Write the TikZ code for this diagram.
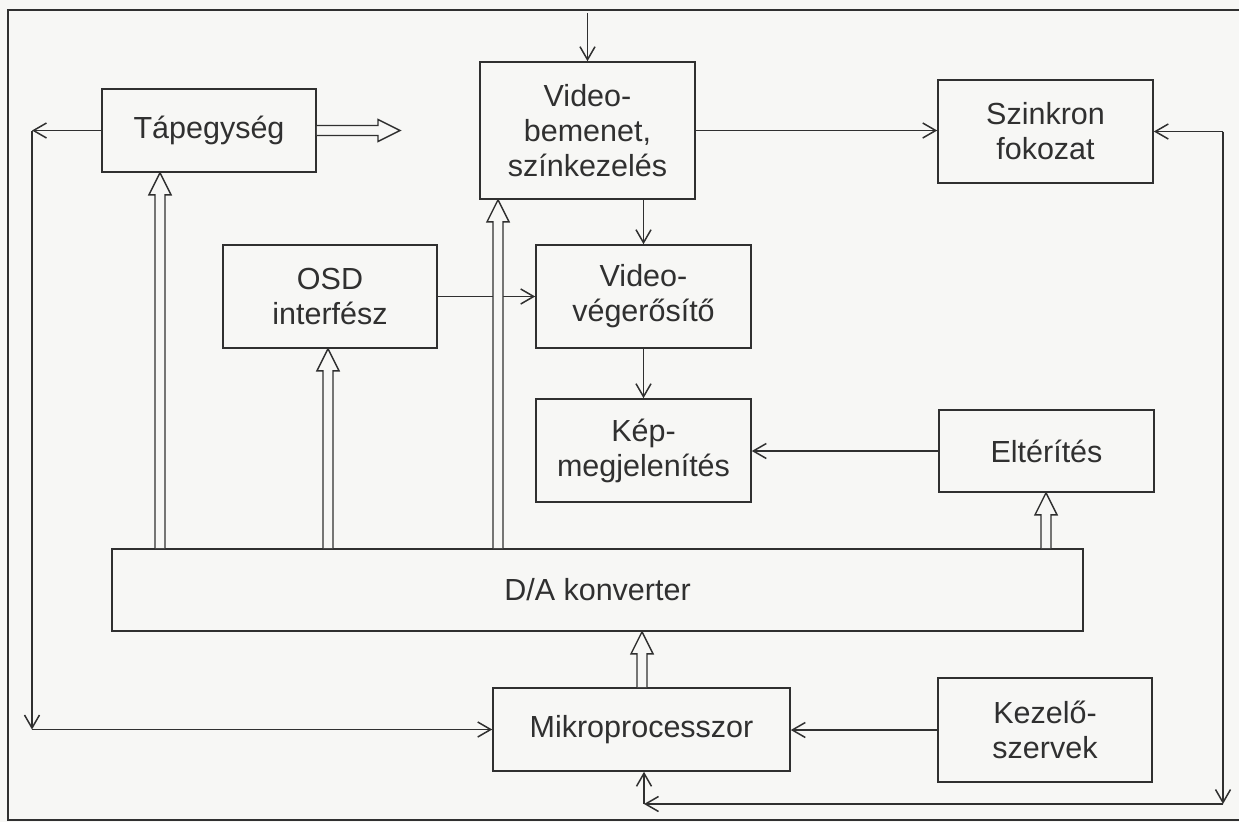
\documentclass[tikz,border=0pt]{standalone}
\usepackage{fontspec}
\setmainfont{Liberation Sans}
\usetikzlibrary{arrows.meta,calc}
\definecolor{ink}{HTML}{303030}
\definecolor{paper}{HTML}{F7F7F5}
\tikzset{
  blk/.style={draw=ink, line width=1.6pt, rectangle, inner sep=0pt, align=center,
    text=ink, font=\fontsize{30.5}{35}\selectfont},
  arr/.style={draw=ink, line width=1.5pt, -{Straight Barb[length=13pt,width=15pt,line width=1.5pt]}},
  hol/.style={draw=ink, line width=1.4pt, fill=paper, line join=miter},
}
\newcommand{\hollowup}[2]{%
  \draw[hol] ($(#1)+(-5,0)$) -- ($(#2)+(-5,22)$) -- ($(#2)+(-11,22)$) -- (#2)
    -- ($(#2)+(11,22)$) -- ($(#2)+(5,22)$) -- ($(#1)+(5,0)$);}
\begin{document}
\begin{tikzpicture}[x=1pt,y=-1pt]
\useasboundingbox (0,0) rectangle (1239,822);
\fill[paper] (0,0) rectangle (1239,822);
\draw[ink, line width=2.6pt] (8,10) rectangle (1245,820);

% blocks
\node[blk, minimum width=214pt, minimum height=83pt]  (tap) at (209,130.5) {Tápegység};
\node[blk, minimum width=215pt, minimum height=137pt] (vid) at (587.5,130.5) {Video-\\bemenet,\\színkezelés};
\node[blk, minimum width=215pt, minimum height=103pt] (szi) at (1045.5,131.5) {Szinkron\\fokozat};
\node[blk, minimum width=214pt, minimum height=103pt] (osd) at (330,296.5) {OSD\\interfész};
\node[blk, minimum width=215pt, minimum height=103pt] (vve) at (643.5,296.5) {Video-\\végerősítő};
\node[blk, minimum width=215pt, minimum height=103pt] (kep) at (643.5,450.5) {Kép-\\megjelenítés};
\node[blk, minimum width=215pt, minimum height=82pt]  (elt) at (1046.5,451) {Eltérítés};
\node[blk, minimum width=971pt, minimum height=82pt]  (dac) at (597.5,590) {D/A konverter};
\node[blk, minimum width=297pt, minimum height=83pt]  (mik) at (641.5,729.5) {Mikroprocesszor};
\node[blk, minimum width=214pt, minimum height=104pt] (kez) at (1045,730) {Kezelő-\\szervek};

% helper coordinates
\coordinate (vin) at (587.5,13);
\coordinate (xl) at (32,0);
\coordinate (xr) at (1223,0);
\coordinate (yb) at (0,804);
\coordinate (xm) at (644,0);
\coordinate (h1) at (160,0);
\coordinate (h2) at (328,0);
\coordinate (h3) at (498,0);
\coordinate (h4) at (1046,0);
\coordinate (h5) at (642,0);
\coordinate (tapout) at (400,130.5);

% thin signal arrows
\draw[arr] (vin) -- (vid.north);
\draw[arr] (vid.east) -- (vid.east -| szi.west);
\draw[arr] (vid.south -| vve.north) -- (vve.north);
\draw[arr] (osd.east) -- (osd.east -| vve.west);
\draw[arr] (vve.south) -- (kep.north);
\draw[arr] (elt.west) -- (elt.west -| kep.east);
\draw[arr] (kez.west) -- (kez.west -| mik.east);

% left loop
\draw[arr] (tap.west) -- (tap.west -| xl);
\draw[arr] (tap.west -| xl) -- (mik.west -| xl);
\draw[arr] (mik.west -| xl) -- (mik.west);

% right loop
\draw[arr] (szi.east -| xr) -- (szi.east);
\draw[arr] (szi.east -| xr) -- (xr |- yb);
\draw[arr] (xr |- yb) -- (xm |- yb);
\draw[arr] (xm |- yb) -- (mik.south -| xm);

% hollow bus arrows
\hollowup{dac.north -| h1}{tap.south -| h1}
\hollowup{dac.north -| h2}{osd.south -| h2}
\hollowup{dac.north -| h3}{vid.south -| h3}
\hollowup{dac.north -| h4}{elt.south -| h4}
\hollowup{mik.north -| h5}{dac.south -| h5}
\draw[hol] ($(tap.east)+(0,-5)$) -- ($(tapout)+(-22,-5)$) -- ($(tapout)+(-22,-11)$) -- (tapout)
  -- ($(tapout)+(-22,11)$) -- ($(tapout)+(-22,5)$) -- ($(tap.east)+(0,5)$);
\end{tikzpicture}
\end{document}
